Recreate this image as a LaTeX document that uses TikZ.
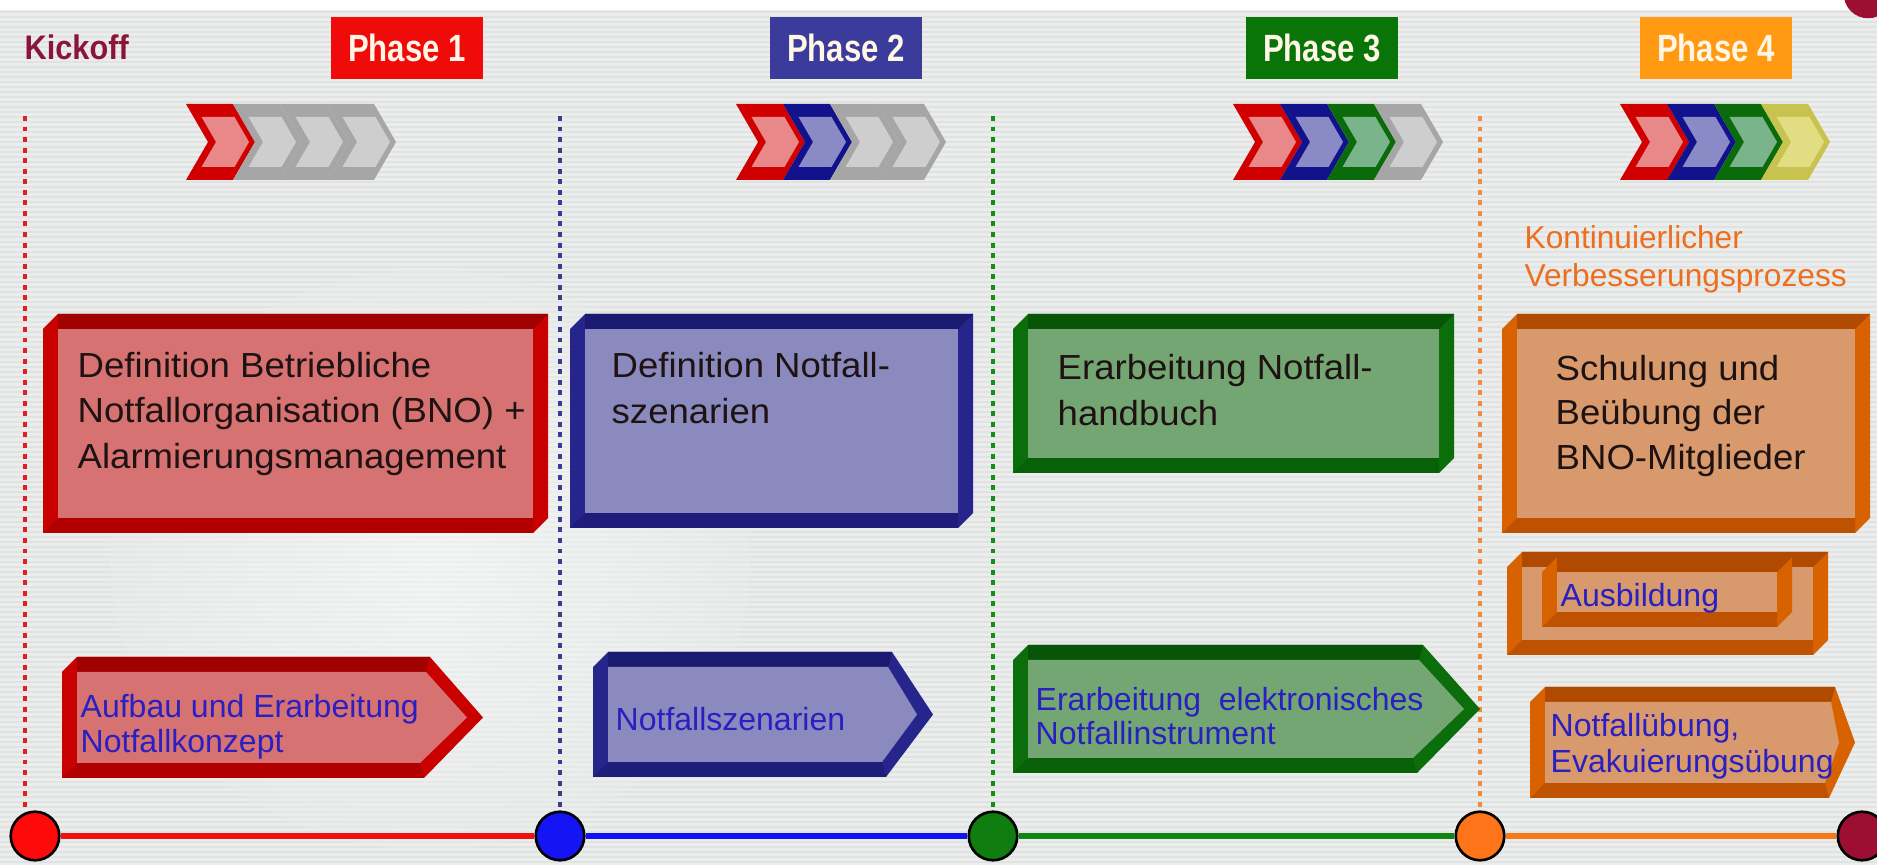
\documentclass[tikz,border=0pt]{standalone}
\usepackage{fontspec}
\setmainfont{Liberation Sans}
\newfontfamily\condfont[FakeStretch=0.82]{Liberation Sans}
\newfontfamily\kickfont[FakeStretch=0.9]{Liberation Sans}
\newfontfamily\widefont[FakeStretch=1.05]{Liberation Sans}
\definecolor{bgc}{HTML}{EBEDED}
\definecolor{stripec}{HTML}{E1E3E3}
\definecolor{kickc}{HTML}{8B1538}
\definecolor{phA}{HTML}{F00A0A}
\definecolor{phB}{HTML}{3B3B9B}
\definecolor{phC}{HTML}{097509}
\definecolor{phD}{HTML}{FF9A12}
\definecolor{phtext}{HTML}{FFF6E6}
\definecolor{rFrame}{HTML}{C80000}
\definecolor{rTop}{HTML}{A00000}
\definecolor{rBot}{HTML}{B20000}
\definecolor{rFace}{HTML}{D77272}
\definecolor{bFrame}{HTML}{25258C}
\definecolor{bTop}{HTML}{1A1A70}
\definecolor{bBot}{HTML}{1E1E7A}
\definecolor{bFace}{HTML}{8A8ABE}
\definecolor{gFrame}{HTML}{0B6E0B}
\definecolor{gTop}{HTML}{075507}
\definecolor{gBot}{HTML}{086008}
\definecolor{gFace}{HTML}{74A674}
\definecolor{oFrame}{HTML}{D86200}
\definecolor{oTop}{HTML}{B04A00}
\definecolor{oBot}{HTML}{BF5200}
\definecolor{oFace}{HTML}{D89A6C}
\definecolor{dtext}{HTML}{1E1212}
\definecolor{btext}{HTML}{2A1FC0}
\definecolor{kvpc}{HTML}{EC6E1E}
\definecolor{chG}{HTML}{A6A6A6}
\definecolor{chGl}{HTML}{CECECE}
\definecolor{chR}{HTML}{D00000}
\definecolor{chRl}{HTML}{E88888}
\definecolor{chB}{HTML}{12128C}
\definecolor{chBl}{HTML}{8A8AC6}
\definecolor{chN}{HTML}{0B6B0B}
\definecolor{chNl}{HTML}{7AB48A}
\definecolor{chY}{HTML}{C8C24E}
\definecolor{chYl}{HTML}{E2DC82}
\definecolor{tred}{HTML}{EE1111}
\definecolor{tblue}{HTML}{1212F0}
\definecolor{tgreen}{HTML}{118511}
\definecolor{torange}{HTML}{F47A18}
\definecolor{cred}{HTML}{FF0A0A}
\definecolor{cblue}{HTML}{1414F5}
\definecolor{cgreen}{HTML}{0F7D0F}
\definecolor{corange}{HTML}{FF7418}
\definecolor{cmaroon}{HTML}{9C0F33}
\definecolor{dred}{HTML}{E02020}
\definecolor{dblue}{HTML}{3A3A90}
\definecolor{dgreen}{HTML}{139013}
\definecolor{dorange}{HTML}{F28A40}

% framed 3D box: x1,y1,x2,y2,colour prefix
\newcommand\BevBox[5]{%
  \fill[#5Frame] (#1,#2+15) -- (#1+15,#2) -- (#3,#2) -- (#3,#4-15) -- (#3-15,#4) -- (#1,#4) -- cycle;
  \fill[#5Top] (#1+15,#2) -- (#3,#2) -- (#3-15,#2+15) -- (#1+15,#2+15) -- cycle;
  \fill[#5Bot] (#1+15,#4-15) -- (#3-15,#4-15) -- (#3-15,#4) -- (#1,#4) -- cycle;
  \fill[#5Face] (#1+15,#2+15) rectangle (#3-15,#4-15);
}
% 3D arrow box: x1,y1,x2(top right),xp(tip),y2,colour prefix
\newcommand\ArrBox[6]{%
  \fill[#6Frame] (#1,#2+15) -- (#1+15,#2) -- (#3,#2) -- (#4,{(#2+#5)/2}) -- (#3-6,#5) -- (#1,#5) -- cycle;
  \fill[#6Top] (#1+15,#2) -- (#3,#2) -- (#3-4,#2+15) -- (#1+15,#2+15) -- cycle;
  \fill[#6Bot] (#1+15,#5-15) -- (#3-10,#5-15) -- (#3-6,#5) -- (#1,#5) -- cycle;
  \fill[#6Face] (#1+15,#2+15) -- (#3-4,#2+15) -- (#4-16,{(#2+#5)/2}) -- (#3-10,#5-15) -- (#1+15,#5-15) -- cycle;
}
% one chevron of the progress icons: x, outer colour, inner colour
\newcommand\ChevOne[3]{%
  \fill[#2] (#1,104) -- (#1+47,104) -- (#1+69,142) -- (#1+47,180) -- (#1,180) -- (#1+22,142) -- cycle;
  \fill[#3] (#1+15.5,117) -- (#1+48.5,117) -- (#1+63,142) -- (#1+48.5,167) -- (#1+15.5,167) -- (#1+30,142) -- cycle;
}

\begin{document}
\begin{tikzpicture}[x=0.01cm,y=-0.01cm,
  phasebox/.style={rectangle, inner sep=0pt, minimum width=43.4pt, minimum height=17.6pt,
    text=phtext, font=\condfont\bfseries\fontsize{10.8}{12}\selectfont},
  bigtxt/.style={anchor=west, inner sep=0pt, align=left, text=dtext,
    font=\widefont\fontsize{9.9}{13}\selectfont},
  smalltxt/.style={anchor=west, inner sep=0pt, align=left, text=btext,
    font=\fontsize{9.1}{9.9}\selectfont},
  dotline/.style={line width=1.4pt, dash pattern=on 1.4pt off 1.6pt},
  tline/.style={line width=1.8pt},
  milestone/.style={circle, draw=black, line width=0.75pt, minimum size=13.8pt, inner sep=0pt}]
\useasboundingbox (0,0) rectangle (1877,865);
\clip (0,0) rectangle (1877,865);

% background
\fill[bgc] (0,0) rectangle (1877,865);
\foreach \yy in {12,17,...,865} \draw[stripec, line width=0.35pt] (0,\yy) -- (1877,\yy);
\fill[white] (0,0) rectangle (1877,10);
\shade[inner color=white, outer color=bgc, opacity=0.45] (430,560) ellipse [x radius=320, y radius=290];

% timeline milestones
\node[milestone, fill=cred] (c0) at (35,836) {};
\node[milestone, fill=cblue] (c1) at (560,836) {};
\node[milestone, fill=cgreen] (c2) at (993,836) {};
\node[milestone, fill=corange] (c3) at (1480,836) {};
\node[milestone, fill=cmaroon] (c4) at (1862,836) {};
\node[milestone, draw=none, fill=cmaroon] (c5) at (1868,-6) {};
\draw[tline, tred] (c0) -- (c1);
\draw[tline, tblue] (c1) -- (c2);
\draw[tline, tgreen] (c2) -- (c3);
\draw[tline, torange] (c3) -- (c4);

% dotted phase borders
\coordinate (d0) at (25,116);
\coordinate (d1) at (560,116);
\coordinate (d2) at (993,116);
\coordinate (d3) at (1480,116);
\draw[dotline, dred] (d0) -- (c0.north -| d0);
\draw[dotline, dblue] (d1) -- (c1.north);
\draw[dotline, dgreen] (d2) -- (c2.north);
\draw[dotline, dorange] (d3) -- (c3.north);

% headers
\node[anchor=west, inner sep=0pt, text=kickc, font=\kickfont\bfseries\fontsize{9.7}{11}\selectfont] (kick) at (24,47) {Kickoff};
\node[phasebox, fill=phA] (ph1) at (407,48) {Phase 1};
\node[phasebox, fill=phB] (ph2) at (846,48) {Phase 2};
\node[phasebox, fill=phC] (ph3) at (1322,48) {Phase 3};
\node[phasebox, fill=phD] (ph4) at (1716,48) {Phase 4};

% progress icons
\ChevOne{186}{chR}{chRl}\ChevOne{233}{chG}{chGl}\ChevOne{280}{chG}{chGl}\ChevOne{327}{chG}{chGl}
\ChevOne{736}{chR}{chRl}\ChevOne{783}{chB}{chBl}\ChevOne{830}{chG}{chGl}\ChevOne{877}{chG}{chGl}
\ChevOne{1233}{chR}{chRl}\ChevOne{1280}{chB}{chBl}\ChevOne{1327}{chN}{chNl}\ChevOne{1374}{chG}{chGl}
\ChevOne{1620}{chR}{chRl}\ChevOne{1667}{chB}{chBl}\ChevOne{1714}{chN}{chNl}\ChevOne{1761}{chY}{chYl}

% phase 1
\BevBox{43}{314}{548}{533}{r}
\node[bigtxt] (t1) at (77,414) {Definition Betriebliche\\Notfallorganisation (BNO) +\\Alarmierungsmanagement};
\ArrBox{62}{657}{430}{483}{778}{r}
\node[smalltxt] (s1) at (80,727) {Aufbau und Erarbeitung\\Notfallkonzept};

% phase 2
\BevBox{570}{314}{973}{528}{b}
\node[bigtxt] (t2) at (611,388) {Definition Notfall-\\szenarien};
\ArrBox{593}{652}{892}{933}{777}{b}
\node[smalltxt] (s2) at (615,719) {Notfallszenarien};

% phase 3
\BevBox{1013}{314}{1454}{473}{g}
\node[bigtxt] (t3) at (1057,390) {Erarbeitung Notfall-\\handbuch};
\ArrBox{1013}{645}{1423}{1480}{773}{g}
\node[smalltxt] (s3) at (1035,716) {Erarbeitung\ \ elektronisches\\Notfallinstrument};

% phase 4
\node[anchor=west, inner sep=0pt, align=left, text=kvpc, font=\fontsize{9}{10.8}\selectfont] (kvp) at (1524,259) {Kontinuierlicher\\Verbesserungsprozess};
\BevBox{1502}{314}{1870}{533}{o}
\node[bigtxt, font=\widefont\fontsize{9.9}{12.6}\selectfont] (t4) at (1555,416) {Schulung und\\Beübung der\\BNO-Mitglieder};
\BevBox{1507}{552}{1828}{655}{o}
\BevBox{1542}{557}{1792}{627}{o}
\node[smalltxt] (s4) at (1560,598) {Ausbildung};
\ArrBox{1530}{687}{1835}{1855}{798}{o}
\node[smalltxt, font=\fontsize{9.1}{10.2}\selectfont] (s5) at (1550,746) {Notfallübung,\\Evakuierungsübung};
\end{tikzpicture}
\end{document}
